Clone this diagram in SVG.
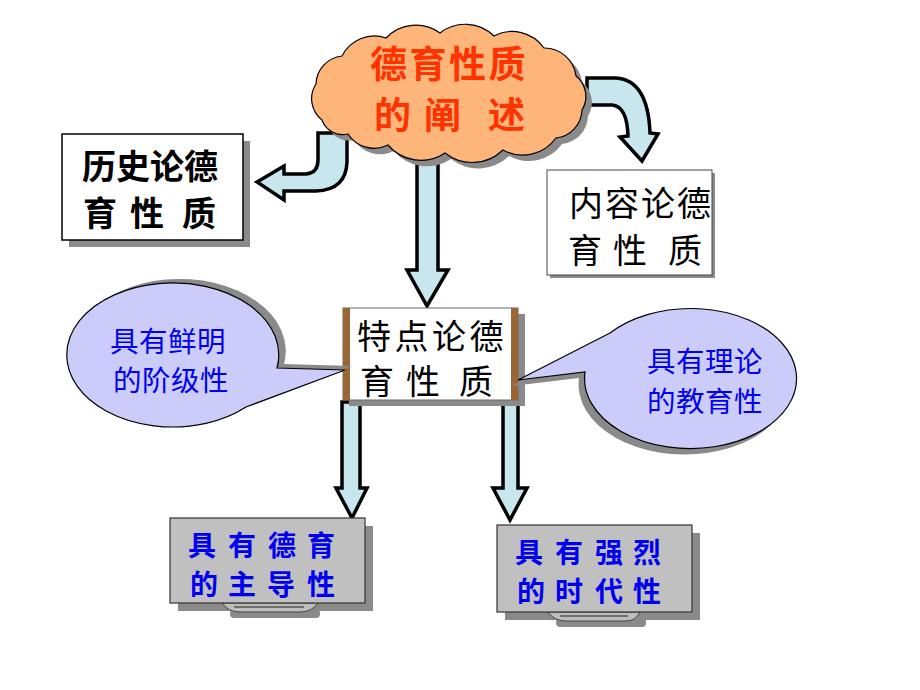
<svg xmlns="http://www.w3.org/2000/svg" width="920" height="690" viewBox="0 0 920 690">
<defs>
<style>
.arrow{fill:#C8E6EE;stroke:#000;stroke-width:3.5;stroke-linejoin:miter}
.shadow{fill:#8A8A8A}
.cjk{font-family:"Noto Sans CJK SC","Noto Sans CJK TC",sans-serif}
.red{fill:#FF3300;font-weight:bold;font-size:37px;letter-spacing:2.5px}
.blk{fill:#000;font-size:34px}
.blue{fill:#0000EE;font-size:28.5px;letter-spacing:0.5px}
.blueb{fill:#0000EE;font-size:28px;font-weight:bold}
.box{fill:#fff;stroke:#000;stroke-width:1.5}
.gbox{fill:#C0C0C0;stroke:#333;stroke-width:1.2}
.bubble{fill:#CCCCFA;stroke:#000;stroke-width:1.2}
.brown{fill:#9A6636}
.foot{fill:#BDBDBD;stroke:#444;stroke-width:1}
</style>
<path id="cloudPath" d="M322,120 A27,27 0 0 1 316,84 A29,29 0 0 1 342,56 A36,36 0 0 1 386,38 A41,41 0 0 1 440,33 A41,41 0 0 1 494,36 A39,39 0 0 1 544,48 A32,32 0 0 1 576,76 A26,26 0 0 1 582,110 A29,29 0 0 1 556,138 A41,41 0 0 1 503,150 A44,44 0 0 1 445,153 A43,43 0 0 1 388,145 A31,31 0 0 1 348,134 A22,22 0 0 1 322,120 Z"/>
<path id="leftBubble" d="M277,368 L345,370 L246,407 A106,72 0 1 1 277,368 Z"/>
<path id="rightBubble" d="M610,333 L518,380 L585,372 A106,70 0 1 0 610,333 Z"/>
</defs>

<g id="connectors">
<path class="arrow" d="M347,133 L347,162 Q346,190 316,191 L284,191 L284,200 L257,182 L284,166 L284,174 L306,174 Q318,173 318,160 L318,133 Z"/>
<path class="arrow" d="M587,78 L616,78 Q648,80 650,133 L658,134 L642,161 L620,137 L628,136 Q627,106 612,105 L587,105 Z"/>
<path class="arrow" d="M417,155 L438,155 L438,270 L448,270 L427,306 L407,270 L417,270 Z"/>
<path class="arrow" d="M342,402 L360,402 L360,488 L367,488 L352,518 L336,488 L342,488 Z"/>
<path class="arrow" d="M503,402 L518,402 L518,488 L527,488 L510,520 L493,488 L503,488 Z"/>
</g>

<g id="cloud">
<use href="#cloudPath" class="shadow" transform="translate(6,6)"/>
<use href="#cloudPath" fill="#FDB57A" stroke="#000" stroke-width="1.2"/>
<text class="cjk red"><tspan x="370" y="78">德育性质</tspan><tspan x="374 424 464 488" y="129">的阐 述</tspan></text>
</g>

<g id="history">
<rect class="shadow" x="69" y="141" width="181" height="106"/>
<rect class="box" x="62" y="134" width="181" height="106"/>
<text class="cjk blk" font-weight="bold"><tspan x="82" y="179">历史论德</tspan><tspan x="83 117 130 164 182" y="226">育 性 质</tspan></text>
</g>

<g id="content">
<rect class="shadow" x="550" y="173" width="165" height="105"/>
<rect x="547" y="170" width="165" height="105" fill="#fff" stroke="#444" stroke-width="1"/>
<text class="cjk blk" font-size="30" letter-spacing="2"><tspan x="569" y="216">内容论德</tspan><tspan x="568 601 613 646 668" y="263">育 性 质</tspan></text>
</g>

<g id="feature">
<rect class="shadow" x="349" y="314" width="176" height="92"/>
<rect x="343" y="308" width="175" height="92" fill="#fff" stroke="#666" stroke-width="1"/>
<rect class="brown" x="343" y="308" width="7" height="92"/>
<rect class="brown" x="511" y="308" width="7" height="92"/>
<text class="cjk blk" font-size="31" letter-spacing="3.5"><tspan x="357" y="349">特点论德</tspan><tspan x="360 395 406 441 459" y="394">育 性 质</tspan></text>
</g>

<g id="class-bubble">
<use href="#leftBubble" class="shadow" transform="translate(7,-4)"/>
<use href="#leftBubble" class="bubble"/>
<text class="cjk blue"><tspan x="110" y="352">具有鲜明</tspan><tspan x="113" y="391">的阶级性</tspan></text>
</g>

<g id="theory-bubble">
<use href="#rightBubble" class="shadow" transform="translate(-6,6)"/>
<use href="#rightBubble" class="bubble"/>
<text class="cjk blue"><tspan x="647" y="372">具有理论</tspan><tspan x="647" y="412">的教育性</tspan></text>
</g>

<g id="leading">
<rect class="shadow" x="178" y="526" width="195" height="85"/>
<rect x="230" y="609" width="90" height="9" rx="4" class="shadow"/>
<path class="foot" d="M222,603 Q228,612 240,612 L300,612 Q312,612 318,603 Z"/>
<line x1="234" y1="607" x2="304" y2="607" stroke="#222" stroke-width="1"/>
<rect class="gbox" x="170" y="518" width="195" height="85"/>
<text class="cjk blueb"><tspan x="188 228 268 307" y="556">具有德育</tspan><tspan x="190 228 267 307" y="595">的主导性</tspan></text>
</g>

<g id="era">
<rect class="shadow" x="505" y="533" width="195" height="87"/>
<rect x="556" y="618" width="90" height="9" rx="4" class="shadow"/>
<path class="foot" d="M548,612 Q554,621 566,621 L626,621 Q636,621 640,612 Z"/>
<line x1="560" y1="616" x2="628" y2="616" stroke="#222" stroke-width="1"/>
<rect class="gbox" x="497" y="525" width="195" height="87"/>
<text class="cjk blueb"><tspan x="515 555 595 633" y="563">具有强烈</tspan><tspan x="517 555 595 633" y="602">的时代性</tspan></text>
</g>
</svg>
